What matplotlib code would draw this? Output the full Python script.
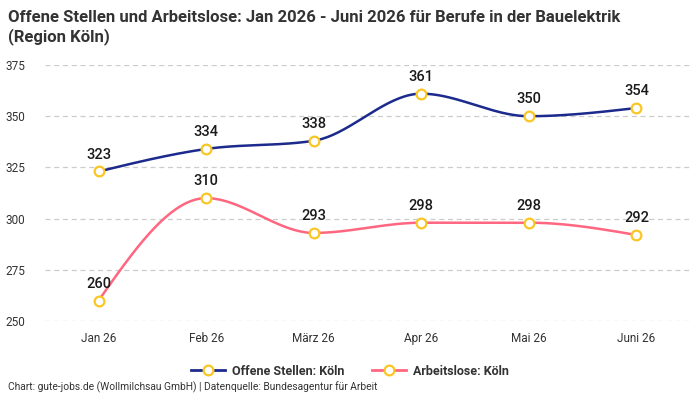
import numpy as np
import matplotlib.pyplot as plt
from matplotlib.lines import Line2D

months = ["Jan 26", "Feb 26", "März 26", "Apr 26", "Mai 26", "Juni 26"]
offene_stellen = [323, 334, 338, 361, 350, 354]
arbeitslose = [260, 310, 293, 298, 298, 292]

blue = "#1b2a8c"
pink = "#ff6680"
yellow = "#f9c623"


def monotone_curve(x, y, n=40):
    # monotone cubic (Fritsch-Carlson), like d3 curveMonotoneX
    x = np.asarray(x, float)
    y = np.asarray(y, float)
    h = np.diff(x)
    d = np.diff(y) / h
    m = np.zeros_like(y)
    for i in range(1, len(y) - 1):
        p = (d[i - 1] * h[i] + d[i] * h[i - 1]) / (h[i - 1] + h[i])
        m[i] = (np.sign(d[i - 1]) + np.sign(d[i])) * min(abs(d[i - 1]), abs(d[i]), 0.5 * abs(p))
    m[0] = (3 * d[0] - m[1]) / 2
    m[-1] = (3 * d[-1] - m[-2]) / 2
    xs, ys = [], []
    for i in range(len(h)):
        t = np.linspace(0, 1, n)
        h00 = 2 * t**3 - 3 * t**2 + 1
        h10 = t**3 - 2 * t**2 + t
        h01 = -2 * t**3 + 3 * t**2
        h11 = t**3 - t**2
        xs.append(x[i] + t * h[i])
        ys.append(h00 * y[i] + h10 * h[i] * m[i] + h01 * y[i + 1] + h11 * h[i] * m[i + 1])
    return np.concatenate(xs), np.concatenate(ys)


plt.rcParams['font.family'] = ['Roboto', 'DejaVu Sans']

fig = plt.figure(figsize=(7, 4), dpi=100)
ax = fig.add_axes([0.064, 0.1975, 0.922, 0.64])

x = np.arange(len(months))
for vals, color in [(offene_stellen, blue), (arbeitslose, pink)]:
    cx, cy = monotone_curve(x, vals)
    ax.plot(cx, cy, color=color, lw=1.8, zorder=3, clip_on=False)
    ax.plot(x, vals, ls='none', marker='o', ms=7, mfc='white', mec=yellow, mew=1.6,
            zorder=4, clip_on=False)
    for xi, v in zip(x, vals):
        ax.annotate(str(v), (xi, v), xytext=(0, 7), textcoords='offset points',
                    ha='center', va='bottom', fontsize=10.5, fontweight='medium',
                    color='#1a1a1a', zorder=5)

ax.set_xlim(-0.5, len(months) - 0.5)
ax.set_ylim(250, 375)
ax.set_yticks([250, 275, 300, 325, 350, 375])
ax.set_xticks(x)
ax.set_xticklabels(months)
ax.tick_params(axis='both', length=0, labelsize=8.5, colors='#333333')
ax.tick_params(axis='y', pad=14)
ax.tick_params(axis='x', pad=8)
ax.grid(axis='y', color='#cccccc', ls=(0, (4, 3)), lw=0.9)
for s in ax.spines.values():
    s.set_visible(False)

title = fig.text(0.012, 0.975,
                 "Offene Stellen und Arbeitslose: Jan 2026 - Juni 2026 für Berufe in der Bauelektrik\n(Region Köln)",
                 ha='left', va='top', fontsize=12, fontweight='bold', color='#333333',
                 linespacing=1.2)
# shrink title until first line is about as wide as in the reference
fig.canvas.draw()
r = fig.canvas.get_renderer()
w = title.get_window_extent(r).width
if w > 618:
    title.set_fontsize(12 * 618 / w)

handles = [
    Line2D([], [], color=blue, lw=2, marker='o', ms=7, mfc='white', mec=yellow, mew=1.6),
    Line2D([], [], color=pink, lw=2, marker='o', ms=7, mfc='white', mec=yellow, mew=1.6),
]
fig.legend(handles, ["Offene Stellen: Köln", "Arbeitslose: Köln"], loc='center',
           bbox_to_anchor=(0.5, 0.072), ncol=2, frameon=False, handlelength=2.7,
           handletextpad=0.6, columnspacing=2.2, prop={'size': 9, 'weight': 'bold'},
           labelcolor='#333333')

fig.text(0.012, 0.017, "Chart: gute-jobs.de (Wollmilchsau GmbH) | Datenquelle: Bundesagentur für Arbeit",
         ha='left', va='bottom', fontsize=7.4, color='#333333')

fig.savefig("out.png", dpi=100)
